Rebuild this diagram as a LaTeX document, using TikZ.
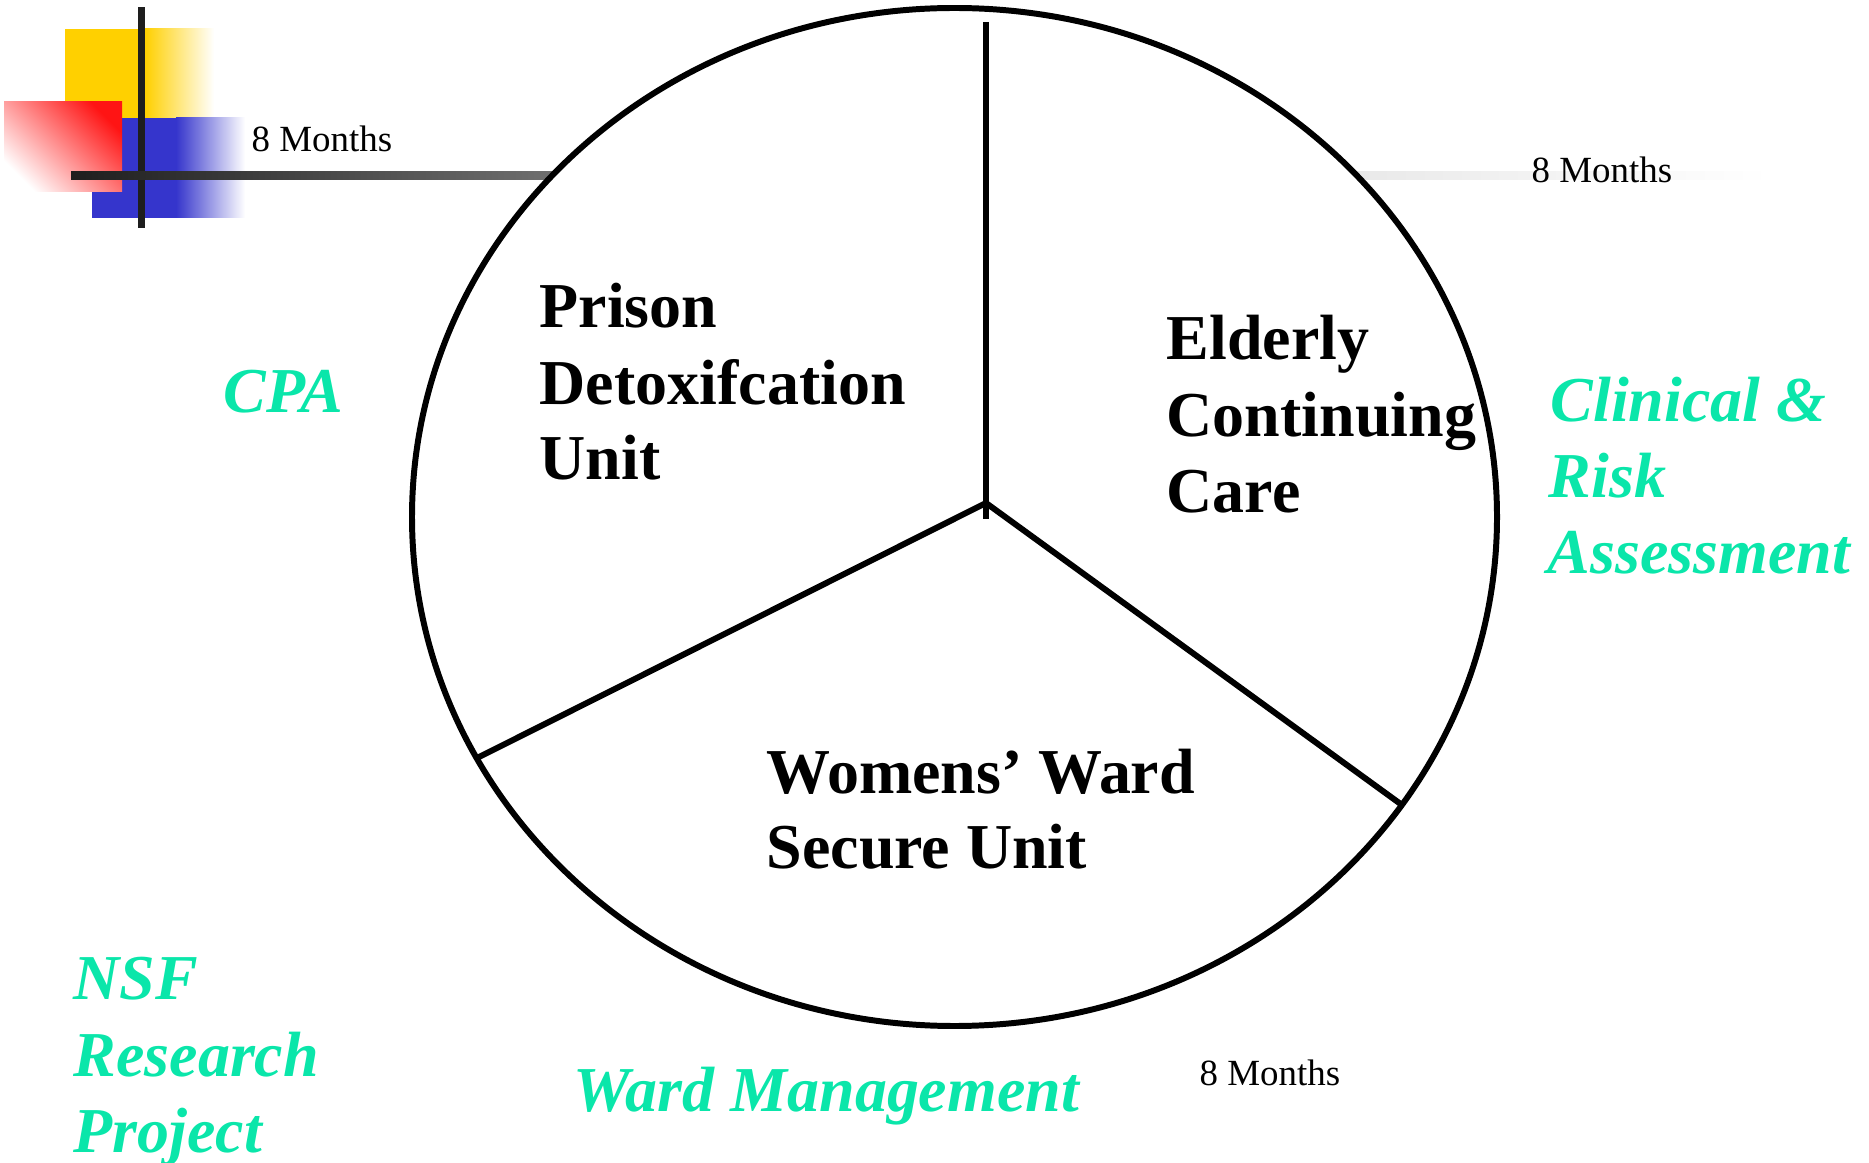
\documentclass[tikz,border=0pt]{standalone}
\usepackage{fontspec}
\setmainfont{Liberation Serif}
\definecolor{topicgreen}{RGB}{10,230,170}
\definecolor{cornyellow}{RGB}{255,208,0}
\definecolor{cornblue}{RGB}{53,53,204}
\definecolor{cornred}{RGB}{255,20,20}
\definecolor{barA}{RGB}{30,30,30}
\definecolor{barB}{RGB}{112,112,112}
\definecolor{barC}{RGB}{232,232,232}
\begin{document}
\begin{tikzpicture}[x=0.1mm,y=-0.1mm,
  unitlabel/.style={font=\fontsize{18.2pt}{22pt}\selectfont\bfseries, anchor=base west, inner sep=0},
  topic/.style={font=\fontsize{18.2pt}{22pt}\selectfont\bfseries\itshape, text=topicgreen, anchor=base west, inner sep=0},
  months/.style={font=\fontsize{10.5pt}{12pt}\selectfont, anchor=base west, inner sep=0},
  rim/.style={line width=1.7pt, draw=black},
  spoke/.style={line width=1.7pt, draw=black}]
\useasboundingbox (0,0) rectangle (1869,1163);

% corner ornament
\fill[cornyellow] (65,29) rectangle (146,118);
\shade[left color=cornyellow, right color=white] (145,29) rectangle (214,118);
\fill[cornblue] (92,118) rectangle (177,218);
\shade[left color=cornblue, right color=white] (176,118) rectangle (245,218);
\shade[top color=cornred, bottom color=white, shading angle=-45] (4,102) rectangle (122,192);
\fill[barA] (138,7) rectangle (145,228);

% time bars
\shade[left color=barA, right color=barB] (71,172) rectangle (560,180);
\shade[left color=barC, right color=white] (1340,172) rectangle (1770,180);

% the wheel
\coordinate (centre) at (954.5,517);
\draw[rim, fill=white] (centre) ellipse [x radius=542.5, y radius=509];
\coordinate (hub) at (986,503);
\coordinate (spoketop) at (986,22);
\coordinate (spokeend) at (986,519);
\coordinate (spokesw) at (477,758);
\coordinate (spokese) at (1402,805);
\draw[spoke] (spoketop) -- (spokeend);
\draw[spoke, line join=miter] (spokesw) -- (hub) -- (spokese);

% segment labels
\node[unitlabel] (p1) at (539,328) {Prison};
\node[unitlabel] (p2) at (539,405) {Detoxifcation};
\node[unitlabel] (p3) at (539,480) {Unit};
\node[unitlabel] (e1) at (1166,360) {Elderly};
\node[unitlabel] (e2) at (1166,437) {Continuing};
\node[unitlabel] (e3) at (1166,513) {Care};
\node[unitlabel] (w1) at (766,793) {Womens’ Ward};
\node[unitlabel] (w2) at (766,868) {Secure Unit};

% durations
\node[months] (m1) at (251,152) {8 Months};
\node[months] (m2) at (1531,183) {8 Months};
\node[months] (m3) at (1199,1085) {8 Months};

% surrounding topics
\node[topic] (cpa) at (223,413) {CPA};
\node[topic] (c1) at (1550,422) {Clinical \&};
\node[topic] (c2) at (1548,498) {Risk};
\node[topic] (c3) at (1547,574) {Assessment};
\node[topic] (n1) at (73,999) {NSF};
\node[topic] (n2) at (73,1076) {Research};
\node[topic] (n3) at (73,1152) {Project};
\node[topic] (wm) at (573,1111) {Ward Management};
\end{tikzpicture}
\end{document}
